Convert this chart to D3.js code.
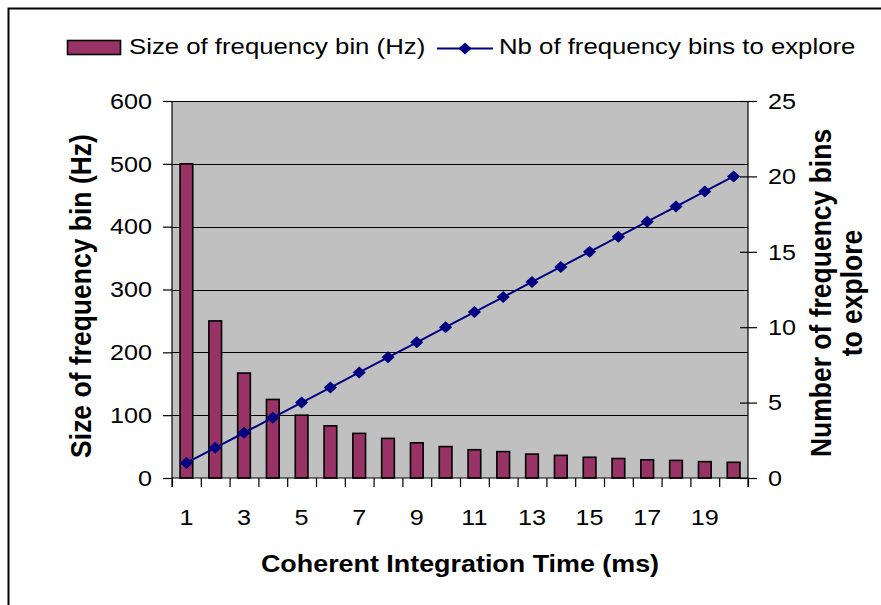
<!DOCTYPE html>
<html>
<head>
<meta charset="utf-8">
<script src="https://cdn.jsdelivr.net/npm/d3@7"></script>
<style>
  html, body { margin: 0; padding: 0; background: #fff; }
  svg { display: block; font-family: "Liberation Sans", Arial, sans-serif; }
</style>
</head>
<body>
<svg id="chart" width="881" height="605"></svg>
<script>
// Coherent integration time (ms)
const times = [1, 2, 3, 4, 5, 6, 7, 8, 9, 10, 11, 12, 13, 14, 15, 16, 17, 18, 19, 20];
// Size of frequency bin (Hz)
const binSize = [500, 250, 167, 125, 100, 83, 71, 63, 56, 50, 45, 42, 38, 36, 33, 31, 29, 28, 26, 25];
// Number of frequency bins to explore
const binCount = [1, 2, 3, 4, 5, 6, 7, 8, 9, 10, 11, 12, 13, 14, 15, 16, 17, 18, 19, 20];
const leftTicks = [0, 100, 200, 300, 400, 500, 600];
const rightTicks = [0, 5, 10, 15, 20, 25];
const xLabelTicks = [1, 3, 5, 7, 9, 11, 13, 15, 17, 19];

const barName = "Size of frequency bin (Hz)";
const lineName = "Nb of frequency bins to explore";
const xTitle = "Coherent Integration Time (ms)";
const yLeftTitle = "Size of frequency bin (Hz)";
const yRightTitle = ["Number of frequency bins", "to explore"];

const BAR = "#993366", LINE = "#000080", PLOT_BG = "#c0c0c0";
const SX = 1.12; // horizontal widening of the lettering

const svg = d3.select("#chart");
const plot = { left: 172, right: 748, top: 101, bottom: 478 };

// outer frame (left and top edges visible)
svg.append("rect")
  .attr("x", 8.5).attr("y", 8.5).attr("width", 900).attr("height", 700)
  .attr("fill", "none").attr("stroke", "#000").attr("stroke-width", 2);

const x = d3.scaleBand().domain(times).range([plot.left, plot.right]).paddingInner(0).paddingOuter(0);
const xEdge = d3.scaleLinear().domain([0, times.length]).range([plot.left, plot.right]);
const yL = d3.scaleLinear().domain([0, 600]).range([plot.bottom, plot.top]);
const yR = d3.scaleLinear().domain([0, 25]).range([plot.bottom, plot.top]);

// plot background
svg.append("rect")
  .attr("x", plot.left).attr("y", plot.top)
  .attr("width", plot.right - plot.left).attr("height", plot.bottom - plot.top)
  .attr("fill", PLOT_BG);

// gridlines
svg.append("g").selectAll("line").data(leftTicks.filter(d => d > 0)).join("line")
  .attr("x1", plot.left).attr("x2", plot.right)
  .attr("y1", d => Math.round(yL(d)) + 0.5).attr("y2", d => Math.round(yL(d)) + 0.5)
  .attr("stroke", "#000").attr("stroke-width", 1);

// bars
const bw = x.bandwidth() * 0.44;
svg.append("g").selectAll("rect").data(times).join("rect")
  .attr("x", (d) => x(d) + (x.bandwidth() - bw) / 2)
  .attr("width", bw)
  .attr("y", (d, i) => yL(binSize[i]))
  .attr("height", (d, i) => plot.bottom - yL(binSize[i]))
  .attr("fill", BAR).attr("stroke", "#000").attr("stroke-width", 1.6);

// line series
const lineGen = d3.line()
  .x((d, i) => x(times[i]) + x.bandwidth() / 2)
  .y(d => yR(d));
svg.append("path").datum(binCount)
  .attr("d", lineGen).attr("fill", "none")
  .attr("stroke", LINE).attr("stroke-width", 2);

const diamond = (cx, cy) => `M${cx - 6.6},${cy}L${cx},${cy - 6}L${cx + 6.6},${cy}L${cx},${cy + 6}Z`;
svg.append("g").selectAll("path").data(binCount).join("path")
  .attr("d", (d, i) => diamond(x(times[i]) + x.bandwidth() / 2, yR(d)))
  .attr("fill", LINE);

// widen axis labels horizontally around their anchor
function widen(sel, ax) {
  sel.attr("x", ax / SX).attr("transform", `scale(${SX},1)`);
}

// left axis
const gL = svg.append("g").attr("transform", `translate(${plot.left},0)`)
  .call(d3.axisLeft(yL).tickValues(leftTicks).tickSize(9).tickPadding(11));
gL.select(".domain").attr("stroke", "#000").attr("stroke-width", 1.2).attr("d", `M0,${plot.top}V${plot.bottom + 9}`);
gL.selectAll(".tick line").attr("stroke", "#000").attr("stroke-width", 1.2);
gL.selectAll(".tick text").attr("font-size", 22.5).attr("fill", "#000")
  .attr("font-family", "Liberation Sans, Arial, sans-serif").call(widen, -20);

// right axis
const gR = svg.append("g").attr("transform", `translate(${plot.right},0)`)
  .call(d3.axisRight(yR).tickValues(rightTicks).tickSize(9).tickPadding(11));
gR.select(".domain").attr("stroke", "#000").attr("stroke-width", 1.2).attr("d", `M0,${plot.top}V${plot.bottom + 9}`);
gR.selectAll(".tick line").attr("x1", -8).attr("stroke", "#000").attr("stroke-width", 1.2);
gR.selectAll(".tick text").attr("font-size", 22.5).attr("fill", "#000")
  .attr("font-family", "Liberation Sans, Arial, sans-serif").call(widen, 20);

// bottom axis: ticks at category boundaries
const gB = svg.append("g").attr("transform", `translate(0,${plot.bottom})`)
  .call(d3.axisBottom(xEdge).tickValues(d3.range(0, times.length + 1)).tickSize(9).tickFormat(""));
gB.select(".domain").attr("stroke", "#000").attr("stroke-width", 1.2).attr("d", `M${plot.left},0H${plot.right}`);
gB.selectAll(".tick line").attr("stroke", "#000").attr("stroke-width", 1.2);

// bottom axis labels at category centres
const gBL = svg.append("g").attr("transform", `translate(0,${plot.bottom})`)
  .call(d3.axisBottom(x).tickValues(xLabelTicks).tickSize(0).tickPadding(31));
gBL.select(".domain").remove();
gBL.selectAll(".tick text").attr("font-size", 22.5).attr("fill", "#000")
  .attr("font-family", "Liberation Sans, Arial, sans-serif").call(widen, 0);

// axis titles
const cx = (plot.left + plot.right) / 2;
svg.append("text")
  .attr("transform", `translate(${cx},572) scale(${SX},1)`)
  .attr("text-anchor", "middle").attr("font-weight", "bold").attr("font-size", 24)
  .text(xTitle);

svg.append("text")
  .attr("transform", `translate(91,296) rotate(-90) scale(1,${SX})`)
  .attr("text-anchor", "middle").attr("font-weight", "bold").attr("font-size", 26.5)
  .text(yLeftTitle);

svg.append("g").selectAll("text").data(yRightTitle).join("text")
  .attr("transform", (d, i) => `translate(${831 + i * 31},293) rotate(-90) scale(1,${SX})`)
  .attr("text-anchor", "middle").attr("font-weight", "bold").attr("font-size", 26.5)
  .text(d => d);

// legend
const lg = svg.append("g");
lg.append("rect").attr("x", 67.5).attr("y", 40.5).attr("width", 53).attr("height", 14)
  .attr("fill", BAR).attr("stroke", "#000").attr("stroke-width", 1.6);
lg.append("text").attr("transform", `translate(129,54) scale(${SX},1)`)
  .attr("font-size", 23).text(barName);
lg.append("line").attr("x1", 437).attr("x2", 493).attr("y1", 48.5).attr("y2", 48.5)
  .attr("stroke", LINE).attr("stroke-width", 2);
lg.append("path").attr("d", diamond(465, 48.5)).attr("fill", LINE);
lg.append("text").attr("transform", `translate(499,54) scale(${SX},1)`)
  .attr("font-size", 23).text(lineName);
</script>
</body>
</html>
